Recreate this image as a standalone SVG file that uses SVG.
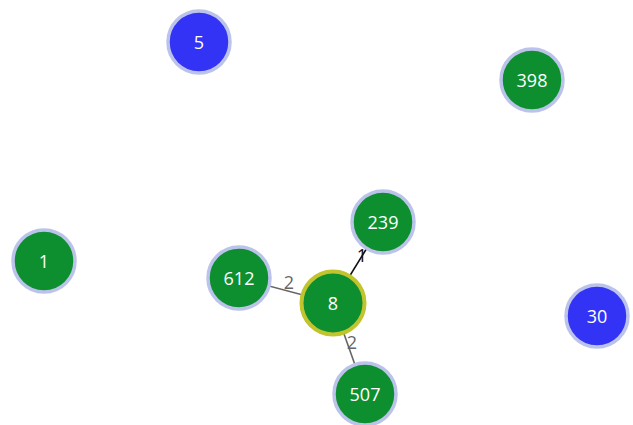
<svg xmlns="http://www.w3.org/2000/svg" width="633" height="425" viewBox="0 0 633 425">
<style>
.n circle{stroke:#bcc3ea;stroke-width:3.5}
.g circle{fill:#0d8f2f}
.b circle{fill:#3333f5}
.n text{fill:#fff;font-family:"Open Sans","DejaVu Sans",sans-serif;font-size:18px;text-anchor:middle;dominant-baseline:central}
.e line{stroke-width:1.6}
.e text{font-family:"Open Sans","DejaVu Sans",sans-serif;font-size:18px;text-anchor:middle;dominant-baseline:central}
</style>
<rect width="633" height="425" fill="#fff"/>
<g id="connectors" class="e">
<line x1="333" y1="303" x2="383" y2="222" stroke="#111"/>
<line x1="333" y1="303" x2="239" y2="278" stroke="#666"/>
<line x1="333" y1="303" x2="365" y2="393" stroke="#666"/>
<text x="362" y="255" fill="#111">1</text>
<text x="289" y="282" fill="#666">2</text>
<text x="352" y="342" fill="#666">2</text>
</g>
<g id="n5" class="n b"><circle cx="199" cy="42" r="31"/><text x="199" y="42">5</text></g>
<g id="n398" class="n g"><circle cx="532" cy="80" r="31"/><text x="532" y="80">398</text></g>
<g id="n239" class="n g"><circle cx="383" cy="222" r="31"/><text x="383" y="222">239</text></g>
<g id="n1" class="n g"><circle cx="44" cy="261" r="31"/><text x="44" y="261">1</text></g>
<g id="n612" class="n g"><circle cx="239" cy="278" r="31"/><text x="239" y="278">612</text></g>
<g id="n8" class="n g"><circle cx="333" cy="303" r="31.5" style="stroke:#c2c42e;stroke-width:4"/><text x="333" y="303">8</text></g>
<g id="n30" class="n b"><circle cx="597" cy="316" r="31"/><text x="597" y="316">30</text></g>
<g id="n507" class="n g"><circle cx="365" cy="394" r="31"/><text x="365" y="394">507</text></g>
</svg>
